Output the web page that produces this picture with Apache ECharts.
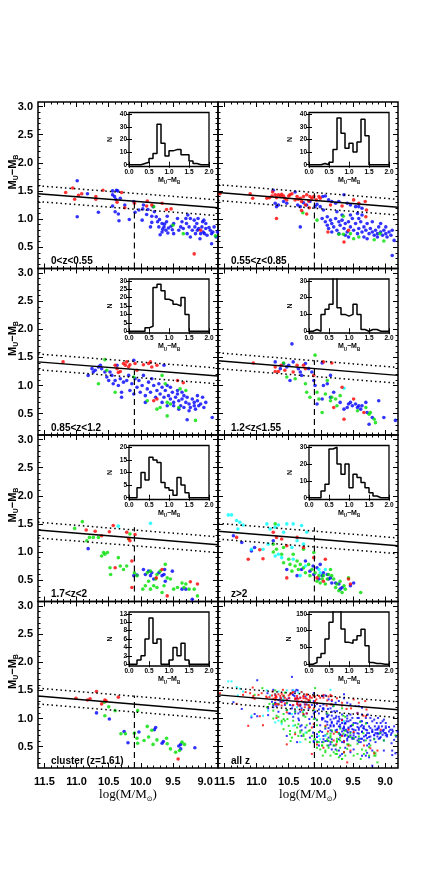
<!DOCTYPE html>
<html>
<head>
<meta charset="utf-8">
<title>U-B colour against stellar mass</title>
<script src="https://cdn.jsdelivr.net/npm/echarts@6.0.0/dist/echarts.min.js"></script>
<style>
  html, body { margin: 0; padding: 0; background: #fff; }
  #chart { width: 436px; height: 872px; }
</style>
</head>
<body>
<div id="chart"></div>
<script>
// ---- tick labels ----
const massTicks = [9.0, 9.5, 10.0, 10.5, 11.0, 11.5];
const colourTicks = [0.5, 1.0, 1.5, 2.0, 2.5, 3.0];
const histTicks = [0.0, 0.5, 1.0, 1.5, 2.0];
const histEdges = [0.0, 0.1, 0.2, 0.3, 0.4, 0.5, 0.6, 0.7, 0.8, 0.9, 1.0,
  1.1, 1.2, 1.3, 1.4, 1.5, 1.6, 1.7, 1.8, 1.9, 2.0];
const histCountTicks = [
  [0, 10, 20, 30, 40], [0, 10, 20, 30, 40],
  [0, 5, 10, 15, 20, 25, 30], [0, 10, 20, 30],
  [0, 5, 10, 15, 20], [0, 10, 20, 30],
  [0, 2, 4, 6, 8, 10, 12], [0, 50, 100, 150]
];
const panelNames = ['0<z<0.55', '0.55<z<0.85', '0.85<z<1.2', '1.2<z<1.55',
  '1.7<z<2', 'z>2', 'cluster (z=1.61)', 'all z'];

// red sequence: colour at log M = 11.6 and at 8.8, plus the dotted band
const seqLeft = [1.45, 1.47, 1.42, 1.44, 1.39, 1.37, 1.40, 1.42];
const seqRight = [1.20, 1.21, 1.17, 1.18, 1.13, 1.11, 1.13, 1.155];
const seqWidth = 0.14;
const massCut = 10.1;
const cutTop = [1.33, 1.46, 1.27, 1.45, 1.44, 1.44, 1.41, 1.50];

// ---- histograms of M_U - M_B (bins of 0.1 from 0 to 2) ----
const hist1 = [0,0,0,1,2,5,9,32,17,7,11,12,12,8,8,3,1,0,0,0];
const hist2 = [0,0,0,1,0,2,12,37,25,13,17,10,18,36,23,0,0,0,0,0];
const hist3 = [0,0,0,0,2,3,26,28,24,19,18,16,15,20,10,0,0,0,0,0];
const hist4 = [0,1,0,10,13,16,34,14,10,9,10,16,10,1,0,1,1,0,0,0];
const hist5 = [0,0,4,10,7,16,15,14,6,4,3,1,8,5,2,0,0,0,0,0];
const hist6 = [0,0,0,4,8,29,30,20,14,20,6,14,12,9,6,3,1,0,0,0];
const hist7 = [0,0,1,2,6,11,5,6,0,0,1,4,2,5,1,0,0,0,0,0];
const hist8 = [0,5,20,32,75,125,160,160,105,65,62,72,85,104,55,5,2,2,0,0];

// ---- galaxies: [log(M/Msun), M_U - M_B] ----
const p1Red = [[11.17,1.47],[11.06,1.55],[11.03,1.35],[10.97,1.42],[10.92,1.45],[10.70,1.40],[10.70,1.35],[10.59,1.51],[10.30,1.47],[10.37,1.30],[10.25,1.20],[10.10,1.28],[9.91,1.23],[9.90,1.32],[9.83,1.25],[9.60,1.17],[9.53,1.18],[9.67,1.28],[9.17,0.38],[9.07,0.80]];
const p1Blue = [[10.99,1.68],[10.99,1.04],[10.83,1.45],[10.66,1.12],[10.44,1.50],[10.38,1.51],[10.44,1.43],[10.41,1.40],[10.39,1.35],[10.36,1.50],[10.44,1.23],[10.40,1.13],[10.35,1.09],[10.34,0.97],[10.32,1.37],[10.25,1.25],[10.18,0.99],[10.09,1.12],[10.11,1.31],[10.03,1.16],[9.96,1.25],[9.97,1.18],[9.91,1.08],[9.89,1.17],[9.81,1.22],[9.83,1.05],[9.79,1.13],[9.76,1.04],[9.74,0.95],[9.72,0.86],[9.71,0.99],[9.67,0.92],[9.66,0.82],[9.64,0.86],[9.63,0.91],[9.61,0.80],[9.60,0.95],[9.59,1.05],[9.57,0.84],[9.58,0.75],[9.53,0.87],[9.51,0.81],[9.49,0.92],[9.43,1.01],[9.41,0.80],[9.38,0.86],[9.36,0.95],[9.34,0.83],[9.30,1.01],[9.29,0.92],[9.27,1.07],[9.25,0.86],[9.23,1.01],[9.20,0.80],[9.17,0.98],[9.16,0.86],[9.15,0.74],[9.13,0.92],[9.12,0.80],[9.10,0.83],[9.08,0.65],[9.07,0.74],[9.05,0.86],[9.03,0.77],[9.02,0.98],[9.01,0.74],[8.99,0.83],[8.97,0.71],[8.94,0.85],[8.92,0.80],[8.90,0.74],[8.88,0.77],[8.86,0.86],[8.83,0.68],[8.81,0.77],[8.90,0.56],[8.99,0.92],[9.04,0.95],[9.11,1.01],[9.70,0.72],[9.83,0.94],[9.98,0.98],[9.85,0.86],[9.67,0.77],[9.49,0.74],[9.28,0.74],[9.23,0.68]];
const p1Green = [[9.80,1.22],[9.50,0.89],[9.34,0.74],[8.84,0.70]];
const p1Cyan = [];

const p2Red = [[11.57,1.45],[11.10,1.45],[11.06,1.37],[10.84,1.37],[10.80,1.38],[10.76,1.41],[10.71,1.43],[10.69,1.38],[10.66,1.43],[10.63,1.40],[10.61,1.44],[10.58,1.41],[10.56,1.37],[10.50,1.41],[10.48,1.43],[10.40,1.34],[10.37,1.40],[10.35,1.35],[10.32,1.37],[10.30,1.31],[10.27,1.40],[10.24,1.25],[10.22,1.43],[10.19,1.32],[10.17,1.40],[10.14,1.37],[10.11,1.40],[10.07,1.34],[10.03,1.40],[10.01,1.37],[10.69,1.01],[10.30,1.15],[10.22,1.09],[9.89,0.77],[9.85,1.25],[9.67,1.23],[9.64,0.59],[9.57,0.80],[9.49,1.34],[9.41,1.28],[9.31,1.31],[9.29,1.16],[9.30,1.04],[10.18,1.20],[10.45,1.45],[10.53,1.34],[10.75,1.48]];
const p2Blue = [[10.74,1.51],[10.71,1.28],[10.69,1.22],[10.66,1.25],[10.58,1.31],[10.53,1.28],[10.40,1.48],[10.36,1.25],[10.32,1.22],[10.27,1.29],[10.22,1.25],[10.17,1.31],[10.09,1.22],[10.06,1.26],[10.01,1.22],[9.97,1.40],[9.93,1.41],[9.88,1.34],[9.83,1.31],[9.77,1.28],[9.72,1.31],[9.64,1.43],[9.59,1.28],[9.54,1.25],[9.46,1.22],[9.41,1.22],[9.36,1.19],[10.32,0.86],[9.98,1.01],[9.93,0.95],[9.90,0.89],[9.88,0.83],[9.85,0.98],[9.83,0.92],[9.80,0.86],[9.77,1.01],[9.75,0.80],[9.72,0.95],[9.70,0.89],[9.67,0.98],[9.64,0.83],[9.62,0.92],[9.59,0.77],[9.57,0.95],[9.54,0.86],[9.51,1.01],[9.49,0.80],[9.46,0.92],[9.43,0.74],[9.41,0.83],[9.38,0.95],[9.36,0.77],[9.33,0.86],[9.30,0.80],[9.28,0.92],[9.25,0.74],[9.23,0.83],[9.20,0.77],[9.17,0.71],[9.15,0.80],[9.12,0.74],[9.10,0.86],[9.07,0.77],[9.04,0.71],[9.02,0.80],[8.99,0.74],[8.97,0.68],[8.94,0.77],[8.91,0.71],[8.89,0.80],[8.86,0.62],[8.89,0.35],[9.43,1.10],[9.36,1.07],[9.67,1.07],[9.75,1.13],[9.90,1.04],[9.96,1.16],[9.54,1.07],[9.41,1.01],[9.20,0.95],[9.07,0.92],[8.99,0.86],[9.12,0.68],[9.28,0.65],[9.33,0.68],[9.57,0.68],[9.62,0.71],[9.72,0.74],[9.83,0.77]];
const p2Green = [[10.28,1.11],[10.06,0.98],[9.72,0.73],[9.65,1.05],[9.65,0.73],[9.49,0.65],[9.41,0.68],[9.17,0.63],[9.02,0.61],[9.08,0.74],[9.54,0.74]];
const p2Cyan = [];

const p3Red = [[11.21,1.42],[10.40,1.36],[10.37,1.30],[10.32,1.25],[10.27,1.39],[10.24,1.36],[10.22,1.42],[10.19,1.33],[10.17,1.37],[10.09,1.39],[10.06,1.27],[9.96,1.37],[9.88,1.39],[9.83,1.33],[9.85,1.42],[9.75,1.36],[9.43,1.09],[9.34,1.05],[9.80,0.73],[9.75,0.76],[10.35,1.23]];
const p3Blue = [[10.82,1.18],[10.74,1.24],[10.76,1.30],[10.71,1.27],[10.66,1.33],[10.63,1.36],[10.61,1.30],[10.56,1.24],[10.53,1.15],[10.50,1.09],[10.48,1.24],[10.45,1.18],[10.43,1.03],[10.40,1.09],[10.37,1.36],[10.35,1.00],[10.32,1.12],[10.30,0.88],[10.27,1.06],[10.22,1.09],[10.19,1.18],[10.17,0.91],[10.14,1.03],[10.11,1.45],[10.09,1.12],[10.06,0.97],[10.03,1.09],[10.01,0.88],[9.98,1.00],[9.96,1.18],[9.93,0.82],[9.90,0.94],[9.88,1.06],[9.85,0.88],[9.83,1.12],[9.80,1.00],[9.77,0.79],[9.75,0.91],[9.72,1.03],[9.70,0.85],[9.67,0.97],[9.64,1.36],[9.64,0.79],[9.62,0.91],[9.59,1.00],[9.57,0.82],[9.54,0.76],[9.51,0.88],[9.49,0.70],[9.46,0.79],[9.43,0.85],[9.41,0.73],[9.38,0.64],[9.36,0.76],[9.33,0.82],[9.30,0.70],[9.28,0.79],[9.25,0.67],[9.23,0.61],[9.20,0.76],[9.17,0.70],[9.15,0.58],[9.12,0.73],[9.10,0.64],[9.07,0.67],[9.04,0.79],[9.02,0.61],[8.99,0.70],[9.28,0.39],[8.89,0.43],[9.49,0.64],[9.41,0.58],[9.33,0.61],[9.25,0.55],[9.17,0.64],[9.12,0.82],[9.36,0.88],[9.54,0.97],[9.43,0.91],[9.67,0.70],[9.59,0.64],[10.30,0.79],[10.11,0.85],[9.93,0.70]];
const p3Green = [[10.66,1.03],[10.40,0.88],[10.53,1.27],[10.11,1.15],[9.67,1.18],[9.62,1.03],[9.54,0.67],[9.39,0.94],[9.59,0.70],[9.70,0.61],[9.59,0.46],[9.15,0.38],[9.90,0.73],[9.30,0.91],[9.41,0.61],[9.75,0.58],[10.56,1.46]];
const p3Cyan = [];

const p4Red = [[11.05,1.40],[10.71,1.33],[10.66,1.25],[10.62,1.36],[10.56,1.27],[10.43,1.24],[10.37,1.36],[10.27,1.36],[10.24,1.30],[10.11,1.18],[9.96,1.42],[9.83,1.40],[9.67,0.97],[9.80,0.61],[9.64,0.40],[9.49,0.76],[9.33,0.52],[10.71,1.25]];
const p4Blue = [[10.45,1.74],[10.71,1.42],[10.63,1.30],[10.58,1.39],[10.53,1.33],[10.50,1.36],[10.43,1.42],[10.35,1.30],[10.32,1.24],[10.30,1.18],[10.19,1.30],[10.14,1.24],[10.11,1.09],[10.09,1.00],[9.98,1.40],[9.90,1.03],[9.80,0.88],[10.06,0.67],[9.98,0.76],[9.85,0.79],[9.70,0.70],[9.57,0.67],[9.54,0.70],[9.51,0.64],[9.46,0.67],[9.43,0.61],[9.41,0.64],[9.38,0.58],[9.36,0.64],[9.30,0.70],[9.28,0.52],[9.25,0.31],[9.20,0.43],[9.10,0.73],[9.02,0.43],[8.84,0.38],[9.64,0.58],[9.59,0.61],[9.96,1.00],[9.85,1.18],[10.24,1.39],[10.48,1.09]];
const p4Green = [[10.09,1.54],[10.58,1.40],[10.53,1.15],[10.40,1.12],[10.24,1.03],[10.22,0.88],[10.17,0.79],[10.06,0.88],[10.03,0.76],[9.93,0.85],[9.90,1.09],[9.85,0.73],[9.83,0.79],[9.77,0.76],[9.75,0.64],[9.70,0.82],[9.98,0.52],[9.30,0.61],[9.23,0.52],[9.17,0.40],[9.15,0.34],[9.25,0.49],[9.43,0.55]];
const p4Cyan = [[9.64,0.95]];

const p5Red = [[10.85,1.39],[10.71,1.37],[10.61,1.29],[10.49,1.36],[10.43,1.47],[10.40,0.72],[10.22,1.35],[10.19,1.24],[10.17,1.20],[10.14,0.84],[10.09,1.31],[10.14,0.37],[9.76,0.54],[9.67,0.69],[9.59,0.22],[9.23,0.47],[9.12,0.43]];
const p5Blue = [[10.82,1.06],[10.11,0.58],[10.06,0.59],[9.96,0.69],[9.93,0.60],[9.88,0.66],[9.85,0.58],[9.83,0.63],[9.80,0.52],[9.72,0.63],[9.67,0.58],[9.64,0.60],[9.63,0.69],[9.62,0.48],[9.51,0.66],[9.36,0.34],[9.30,0.34],[9.20,0.16]];
const p5Green = [[11.03,1.42],[10.91,1.54],[10.84,1.20],[10.80,1.26],[10.74,1.26],[10.66,1.26],[10.61,0.93],[10.58,0.99],[10.56,0.96],[10.52,0.99],[10.48,0.72],[10.47,0.60],[10.35,0.90],[10.32,0.75],[10.27,0.69],[10.22,0.75],[10.19,1.23],[10.17,1.32],[10.10,0.63],[10.06,0.58],[9.97,0.34],[9.90,0.63],[9.88,0.48],[9.85,0.66],[9.77,0.52],[9.75,0.60],[9.70,0.66],[9.62,0.78],[9.59,0.54],[9.64,0.40],[9.67,0.28],[9.54,0.52],[9.49,0.34],[9.43,0.37],[9.36,0.45],[9.33,0.37],[9.30,0.43],[9.25,0.34],[9.17,0.34],[9.12,0.22],[9.80,0.40],[9.75,0.37],[9.85,0.34],[9.93,0.40]];
const p5Cyan = [[10.35,1.46],[9.85,1.51]];

const p6Red = [[11.31,1.26],[10.95,1.04],[11.13,0.87],[10.90,0.88],[10.74,1.35],[10.69,1.26],[10.61,1.23],[10.53,1.11],[10.37,1.26],[10.27,1.08],[10.11,0.90],[9.93,0.87],[10.53,0.54],[10.06,0.54],[9.96,0.48],[9.57,0.52],[9.54,0.43]];
const p6Blue = [[11.36,1.29],[11.23,1.17],[11.08,1.02],[11.03,1.08],[10.74,1.20],[10.53,0.69],[10.37,0.58],[10.30,0.69],[10.24,0.84],[10.17,0.66],[10.11,0.60],[10.06,0.72],[10.03,0.52],[9.98,0.58],[9.96,0.63],[9.90,0.60],[9.88,0.52],[9.85,0.54],[9.83,0.45],[9.77,0.45],[9.72,0.43],[9.70,0.34],[9.67,0.37],[9.54,0.40],[9.49,0.45],[10.12,0.75],[10.01,0.78]];
const p6Green = [[10.74,1.14],[10.69,1.05],[10.71,1.50],[10.58,1.08],[10.61,0.96],[10.50,0.87],[10.48,0.78],[10.43,0.96],[10.40,0.75],[10.37,0.84],[10.35,0.69],[10.32,0.78],[10.27,0.72],[10.24,0.63],[10.19,0.78],[10.17,0.58],[10.14,0.69],[10.09,0.63],[10.06,0.48],[10.03,0.58],[10.01,0.45],[9.98,0.52],[9.96,0.58],[9.93,0.43],[9.90,0.52],[9.88,0.60],[9.85,0.69],[9.83,0.58],[9.80,0.52],[9.77,0.37],[9.75,0.43],[9.70,0.48],[9.64,0.40],[9.62,0.34],[9.67,0.28],[9.72,0.31],[9.38,0.28],[9.57,0.54],[10.74,1.00],[10.58,0.81],[10.45,0.66],[10.27,1.05],[10.11,0.99]];
const p6Cyan = [[11.44,1.66],[11.39,1.66],[11.31,1.56],[11.26,1.53],[11.21,1.48],[11.29,1.41],[10.84,1.50],[10.79,1.41],[10.71,1.44],[10.66,1.48],[10.58,1.35],[10.53,1.50],[10.43,1.50],[10.37,1.20],[10.30,1.47],[10.27,1.14],[10.22,1.35],[10.90,1.05],[10.82,1.14],[10.71,0.93],[10.66,0.96],[10.61,0.90],[10.45,1.08],[10.43,0.87],[10.32,0.58],[10.24,0.75],[10.03,0.69],[10.01,0.63],[9.93,0.69],[11.08,1.05]];

const p7Red = [[11.01,1.36],[10.83,1.33],[10.79,1.35],[10.69,1.48],[10.61,1.26],[10.56,1.33],[10.54,1.31],[10.35,1.38],[9.42,0.28]];
const p7Blue = [[10.69,1.10],[10.49,0.99],[10.26,0.77],[10.20,0.57],[10.03,0.76],[9.79,0.80],[9.67,0.56],[9.65,0.59],[9.41,0.51],[9.38,0.46],[9.38,0.54],[9.16,0.48],[9.77,0.84]];
const p7Green = [[10.57,1.29],[10.50,1.21],[10.40,1.14],[10.56,1.05],[10.31,0.73],[10.24,0.73],[10.10,0.74],[10.06,0.65],[10.05,0.56],[10.05,1.14],[9.90,0.86],[9.88,0.67],[9.83,0.79],[9.81,0.54],[9.95,0.61],[9.75,0.62],[9.60,0.65],[9.54,0.46],[9.46,0.40],[9.40,0.43],[9.36,0.58],[9.32,0.54],[9.59,0.55]];
const p7Cyan = [];

// "all z" holds every field galaxy of the six redshift bins
const p8Red = [].concat(p1Red, p2Red, p3Red, p4Red, p5Red, p6Red);
const p8Blue = [].concat(p1Blue, p2Blue, p3Blue, p4Blue, p5Blue, p6Blue);
const p8Green = [].concat(p1Green, p2Green, p3Green, p4Green, p5Green, p6Green);
const p8Cyan = [].concat(p1Cyan, p2Cyan, p3Cyan, p4Cyan, p5Cyan, p6Cyan);

const panelPoints = [
  [p1Blue, p1Green, p1Cyan, p1Red], [p2Blue, p2Green, p2Cyan, p2Red],
  [p3Blue, p3Green, p3Cyan, p3Red], [p4Blue, p4Green, p4Cyan, p4Red],
  [p5Blue, p5Green, p5Cyan, p5Red], [p6Blue, p6Green, p6Cyan, p6Red],
  [p7Blue, p7Green, p7Cyan, p7Red], [p8Blue, p8Green, p8Cyan, p8Red]
];
const pointColours = ['#0000ff', '#00e000', '#00ffff', '#ff0000'];
const hists = [hist1, hist2, hist3, hist4, hist5, hist6, hist7, hist8];

// minor tick positions (0.1 steps)
const massMinor = [];
for (let k = 89; k <= 115; k++) massMinor.push(k / 10);
const colourMinor = [];
for (let k = 2; k <= 30; k++) colourMinor.push(k / 10);

// ---- layout ----
const colLeft = [38, 218];
const rowTop = [102, 268.5, 435, 601.5];
const panelW = 180, panelH = 166.5;
const yMin = 0.12, yMax = 3.08, xMin = 8.8, xMax = 11.6;

const tickFont = { fontFamily: 'Liberation Sans', fontWeight: 'bold', color: '#000' };
const subRich = {
  a: { fontFamily: 'Liberation Sans', fontWeight: 'bold', fontSize: 11, lineHeight: 12, verticalAlign: 'top', color: '#000' },
  b: { fontFamily: 'Liberation Sans', fontWeight: 'bold', fontSize: 7, lineHeight: 7, padding: [6, 0, 0, 0], verticalAlign: 'top', color: '#000' }
};
const smallRich = {
  a: { fontFamily: 'Liberation Sans', fontWeight: 'bold', fontSize: 7, lineHeight: 8, verticalAlign: 'top', color: '#000' },
  b: { fontFamily: 'Liberation Sans', fontWeight: 'bold', fontSize: 4.5, lineHeight: 5, padding: [4, 0, 0, 0], verticalAlign: 'top', color: '#000' }
};

function valueAxis(gi, pos, min, max, ticks, len, extra) {
  return Object.assign({
    type: 'value', gridIndex: gi, position: pos, min: min, max: max,
    axisLine: { show: false },
    splitLine: { show: false },
    axisTick: { show: true, inside: true, length: len, customValues: ticks, lineStyle: { color: '#000', width: 1 } },
    axisLabel: { show: false, customValues: ticks }
  }, extra || {});
}

const grid = [], xAxis = [], yAxis = [], series = [], graphic = [];

panelNames.forEach((name, i) => {
  const col = i % 2, row = Math.floor(i / 2);
  const left = colLeft[col], top = rowTop[row];
  const lastRow = row === 3;

  // main panel
  const gi = grid.length;
  grid.push({ left: left, top: top, width: panelW, height: panelH, show: true,
    borderColor: '#000', borderWidth: 1.5, backgroundColor: 'transparent' });
  const xi = xAxis.length;
  xAxis.push(valueAxis(gi, 'bottom', xMin, xMax, massTicks, 5, {
    inverse: true,
    axisLabel: Object.assign({ show: lastRow, customValues: massTicks, formatter: v => v.toFixed(1), margin: 8, fontSize: 11 }, tickFont),
    name: lastRow ? '{a|log(M/M}{s|\u2299}{a|)}' : '',
    nameLocation: 'middle', nameGap: 19,
    nameTextStyle: { rich: {
      a: { fontFamily: 'Liberation Serif', fontSize: 13, lineHeight: 14, verticalAlign: 'top', color: '#000' },
      s: { fontFamily: 'DejaVu Sans', fontSize: 7, lineHeight: 7, padding: [8, 0, 0, 0], verticalAlign: 'top', color: '#000' }
    } }
  }));
  xAxis.push(valueAxis(gi, 'bottom', xMin, xMax, massMinor, 2.5, { inverse: true }));
  xAxis.push(valueAxis(gi, 'top', xMin, xMax, massTicks, 5, { inverse: true }));
  xAxis.push(valueAxis(gi, 'top', xMin, xMax, massMinor, 2.5, { inverse: true }));
  const yi = yAxis.length;
  yAxis.push(valueAxis(gi, 'left', yMin, yMax, colourTicks, 5, {
    axisLabel: Object.assign({ show: col === 0, customValues: colourTicks, formatter: v => v.toFixed(1), margin: 5, fontSize: 11 }, tickFont)
  }));
  yAxis.push(valueAxis(gi, 'left', yMin, yMax, colourMinor, 2.5));
  yAxis.push(valueAxis(gi, 'right', yMin, yMax, colourTicks, 5));
  yAxis.push(valueAxis(gi, 'right', yMin, yMax, colourMinor, 2.5));

  const on = { xAxisIndex: xi, yAxisIndex: yi, silent: true, animation: false };
  const symSize = i === 7 ? 2 : 3.6;
  panelPoints[i].forEach((pts, c) => {
    series.push(Object.assign({ type: 'scatter', data: pts, symbol: i === 7 ? 'rect' : 'circle',
      symbolSize: symSize, itemStyle: { color: pointColours[c] } }, on));
  });
  const sl = seqLeft[i], sr = seqRight[i];
  series.push(Object.assign({ type: 'line', data: [[xMax, sl], [xMin, sr]], symbol: 'none',
    lineStyle: { color: '#000', width: 1.5 } }, on));
  [seqWidth, -seqWidth].forEach(d => {
    series.push(Object.assign({ type: 'line', data: [[xMax, sl + d], [xMin, sr + d]], symbol: 'none',
      lineStyle: { color: '#000', width: 1.5, type: [1.5, 3] } }, on));
  });
  series.push(Object.assign({ type: 'line', data: [[massCut, yMin], [massCut, cutTop[i]]], symbol: 'none',
    lineStyle: { color: '#000', width: 1.2, type: [6, 4] } }, on));

  // inset histogram
  const ig = grid.length;
  grid.push({ left: left + 91, top: top + 10.5, width: 80, height: 54, show: true,
    borderColor: '#000', borderWidth: 1.3, backgroundColor: 'transparent' });
  const hx = xAxis.length;
  xAxis.push(valueAxis(ig, 'bottom', 0, 2, histTicks, 3, {
    axisLabel: Object.assign({ show: true, customValues: histTicks, formatter: v => v.toFixed(1), margin: 2, fontSize: 6.5 }, tickFont),
    name: '{a|M}{b|U}{a|\u2212M}{b|B}', nameLocation: 'middle', nameGap: 10,
    nameTextStyle: { rich: smallRich }
  }));
  xAxis.push(valueAxis(ig, 'top', 0, 2, histTicks, 3));
  const yt = histCountTicks[i], ytop = yt[yt.length - 1];
  const hy = yAxis.length;
  yAxis.push(valueAxis(ig, 'left', -0.035 * ytop, 1.035 * ytop, yt, 3, {
    axisLabel: Object.assign({ show: true, customValues: yt, margin: 2, fontSize: 6.5 }, tickFont),
    name: 'N', nameLocation: 'middle', nameGap: 15, nameRotate: 90,
    nameTextStyle: Object.assign({ fontSize: 7 }, tickFont)
  }));
  yAxis.push(valueAxis(ig, 'right', -0.035 * ytop, 1.035 * ytop, yt, 3));
  const hd = hists[i].map((c, k) => [histEdges[k], c]);
  hd.push([histEdges[histEdges.length - 1], 0]);
  series.push({ type: 'line', xAxisIndex: hx, yAxisIndex: hy, data: hd, step: 'end', symbol: 'none',
    silent: true, animation: false, lineStyle: { color: '#000', width: 1.5 } });

  // caption
  graphic.push({ type: 'text', x: left + 13, y: top + panelH - 7, silent: true,
    style: { text: name, fill: '#000', font: 'bold 10px "Liberation Sans"', align: 'left', verticalAlign: 'middle' } });
  // y title on the left column
  if (col === 0) {
    graphic.push({ type: 'text', x: 13, y: top + 70, rotation: Math.PI / 2, silent: true,
      style: { text: '{a|M}{b|U}{a|\u2212M}{b|B}', rich: subRich, align: 'center', verticalAlign: 'middle' } });
  }
});

const chart = echarts.init(document.getElementById('chart'));
chart.setOption({
  backgroundColor: '#fff',
  animation: false,
  grid: grid,
  xAxis: xAxis,
  yAxis: yAxis,
  series: series,
  graphic: graphic
});
</script>
</body>
</html>
